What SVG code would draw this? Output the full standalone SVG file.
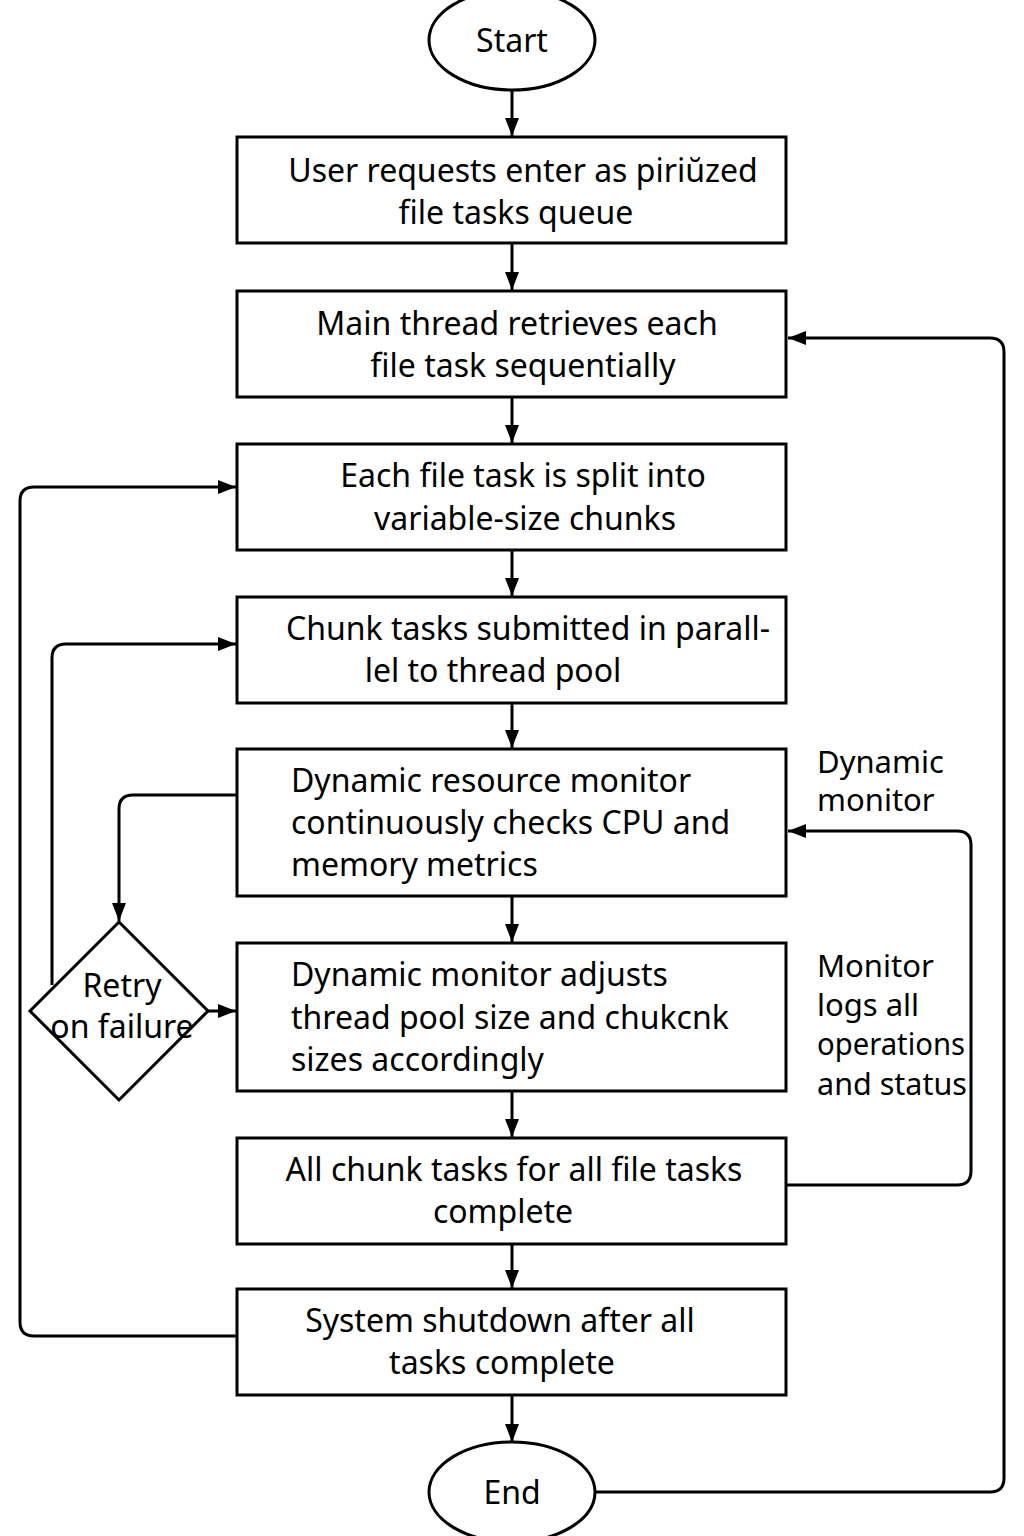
<svg xmlns="http://www.w3.org/2000/svg" width="1024" height="1536" viewBox="0 0 1024 1536">
<defs>
<marker id="ah" viewBox="0 0 18 14" refX="18" refY="7" markerWidth="18" markerHeight="14" markerUnits="userSpaceOnUse" orient="auto">
<path d="M0,0 L18,7 L0,14 z" fill="#000"/>
</marker>
<style>
.box{fill:#fff;stroke:#000;stroke-width:3}
.t{font-family:"Noto Sans","Open Sans",sans-serif;font-size:32px;fill:#000}
.s{font-size:31px}
.c{text-anchor:middle}
.ln{fill:none;stroke:#000;stroke-width:3;marker-end:url(#ah)}
</style>
</defs>
<rect width="1024" height="1536" fill="#fff"/>
<g id="connectors">
<path class="ln" d="M512,90 V136"/>
<path class="ln" d="M512,243 V290"/>
<path class="ln" d="M512,397 V443"/>
<path class="ln" d="M512,550 V596"/>
<path class="ln" d="M512,703 V748"/>
<path class="ln" d="M512,896 V942"/>
<path class="ln" d="M512,1091 V1137"/>
<path class="ln" d="M512,1244 V1288"/>
<path class="ln" d="M512,1395 V1442"/>
<path class="ln" d="M595,1492 H990 Q1004,1492 1004,1478 V352 Q1004,338 990,338 H788"/>
<path class="ln" d="M786,1185 H957 Q971,1185 971,1171 V845 Q971,831 957,831 H788"/>
<path class="ln" d="M237,1336 H34 Q20,1336 20,1322 V501 Q20,487 34,487 H236"/>
<path class="ln" d="M52,985 V658 Q52,644 66,644 H236"/>
<path class="ln" d="M237,795 H133 Q119,795 119,809 V921"/>
<path class="ln" d="M208,1011 H236"/>
</g>
<g id="start"><ellipse class="box" cx="512" cy="40" rx="83" ry="50"/><text class="t c" x="512" y="52">Start</text></g>
<g id="n1"><rect class="box" x="237" y="137" width="549" height="106"/>
<text class="t c" x="523" y="182">User requests enter as piriŭzed</text>
<text class="t c" x="516" y="224">file tasks queue</text></g>
<g id="n2"><rect class="box" x="237" y="291" width="549" height="106"/>
<text class="t c" x="517" y="335">Main thread retrieves each</text>
<text class="t c" x="523" y="377">file task sequentially</text></g>
<g id="n3"><rect class="box" x="237" y="444" width="549" height="106"/>
<text class="t c" x="523" y="487">Each file task is split into</text>
<text class="t c" x="525" y="530">variable-size chunks</text></g>
<g id="n4"><rect class="box" x="237" y="597" width="549" height="106"/>
<text class="t c" x="528" y="640">Chunk tasks submitted in parall-</text>
<text class="t c" x="493" y="682">lel to thread pool</text></g>
<g id="n5"><rect class="box" x="237" y="749" width="549" height="147"/>
<text class="t" x="291" y="792">Dynamic resource monitor</text>
<text class="t" x="291" y="834">continuously checks CPU and</text>
<text class="t" x="291" y="876">memory metrics</text></g>
<g id="n6"><rect class="box" x="237" y="943" width="549" height="148"/>
<text class="t" x="291" y="986">Dynamic monitor adjusts</text>
<text class="t" x="291" y="1029">thread pool size and chukcnk</text>
<text class="t" x="291" y="1071">sizes accordingly</text></g>
<g id="n7"><rect class="box" x="237" y="1138" width="549" height="106"/>
<text class="t c" x="514" y="1181">All chunk tasks for all file tasks</text>
<text class="t c" x="503" y="1223">complete</text></g>
<g id="n8"><rect class="box" x="237" y="1289" width="549" height="106"/>
<text class="t c" x="500" y="1332">System shutdown after all</text>
<text class="t c" x="502" y="1374">tasks complete</text></g>
<g id="end"><ellipse class="box" cx="512" cy="1492" rx="83" ry="50"/><text class="t c" x="512" y="1504">End</text></g>
<g id="retry"><polygon class="box" points="119,922 208,1011 119,1100 30,1011"/>
<text class="t c" x="122" y="997">Retry</text>
<text class="t c" x="122" y="1038">on failure</text></g>
<g id="lbl1"><text class="t s" x="817" y="773">Dynamic</text><text class="t s" x="817" y="811">monitor</text></g>
<g id="lbl2"><text class="t s" x="817" y="977">Monitor</text><text class="t s" x="817" y="1016">logs all</text><text class="t s" x="817" y="1055" textLength="148" lengthAdjust="spacingAndGlyphs">operations</text><text class="t s" x="817" y="1095" textLength="150" lengthAdjust="spacingAndGlyphs">and status</text></g>
</svg>
